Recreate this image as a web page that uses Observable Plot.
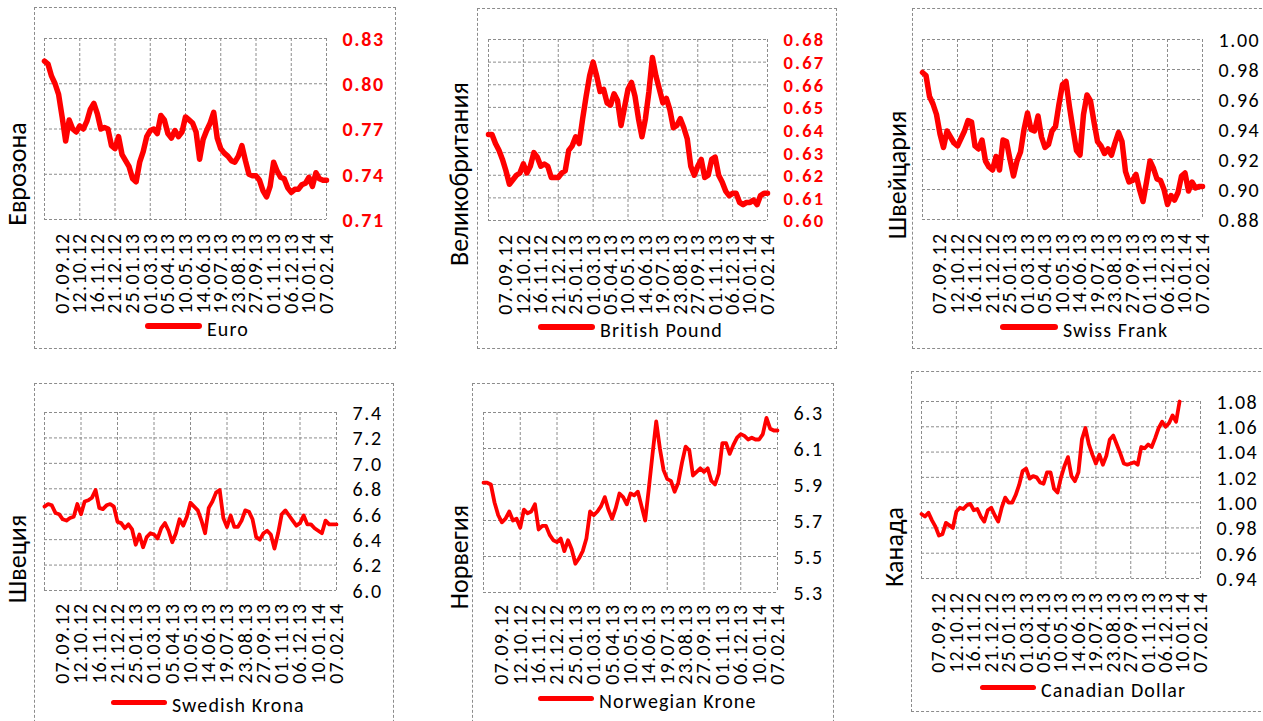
<!DOCTYPE html>
<html>
<head>
<meta charset="utf-8">
<script src="https://cdn.jsdelivr.net/npm/d3@7"></script>
<script src="https://cdn.jsdelivr.net/npm/@observablehq/plot@0.6"></script>
<style>
html,body{margin:0;padding:0;background:#fff;}
body{width:1263px;height:721px;position:relative;overflow:hidden;font-family:Carlito,Calibri,Lato,sans-serif;color:#000;}
.box{position:absolute;border:1px dashed #8c8c8c;box-sizing:border-box;}
.ylab{position:absolute;transform:translate(-50%,-50%) rotate(-90deg);white-space:nowrap;font-size:26px;}
.leg{position:absolute;display:flex;align-items:center;white-space:nowrap;font-size:20px;letter-spacing:1.1px;transform:translateY(-50%);}
.sw{display:inline-block;background:#ff0000;border-radius:4px;margin-right:5px;}
.panel{position:absolute;}
</style>
</head>
<body>
<script>
// ---- data ----
const tickLabels = ["07.09.12","12.10.12","16.11.12","21.12.12","25.01.13","01.03.13","05.04.13","10.05.13",
  "14.06.13","19.07.13","23.08.13","27.09.13","01.11.13","06.12.13","10.01.14","07.02.14"];
const tickWeeks = [5,10,15,20,25,30,35,40,45,50,55,60,65,70,75,80];
const gridWeeks = [0,10,20,30,40,50,60,70,80];

const euro = [0.815,0.813,0.805,0.800,0.793,0.778,0.762,0.776,0.770,0.768,
 0.772,0.770,0.775,0.783,0.787,0.780,0.770,0.771,0.770,0.759,
 0.757,0.765,0.753,0.749,0.745,0.737,0.735,0.748,0.755,0.765,
 0.769,0.770,0.767,0.779,0.776,0.767,0.764,0.769,0.765,0.768,
 0.778,0.776,0.774,0.768,0.750,0.763,0.769,0.774,0.781,0.764,
 0.757,0.754,0.752,0.749,0.748,0.752,0.759,0.749,0.740,0.739,
 0.739,0.736,0.729,0.725,0.732,0.748,0.742,0.738,0.737,0.731,
 0.728,0.730,0.730,0.733,0.734,0.738,0.732,0.741,0.737,0.736,0.736];
const pound = [0.638,0.638,0.634,0.631,0.627,0.622,0.616,0.618,0.620,0.621,
 0.625,0.621,0.624,0.630,0.628,0.624,0.625,0.624,0.619,0.619,
 0.619,0.621,0.622,0.631,0.633,0.637,0.634,0.645,0.655,0.664,
 0.670,0.664,0.657,0.658,0.652,0.651,0.656,0.653,0.642,0.650,
 0.658,0.661,0.655,0.645,0.637,0.645,0.657,0.672,0.664,0.658,
 0.652,0.654,0.649,0.641,0.642,0.645,0.641,0.636,0.624,0.620,
 0.624,0.627,0.619,0.620,0.627,0.628,0.620,0.617,0.613,0.611,
 0.612,0.612,0.608,0.607,0.608,0.608,0.609,0.607,0.611,0.612,0.612];
const franc = [0.978,0.976,0.962,0.957,0.950,0.937,0.928,0.939,0.935,0.931,
 0.929,0.934,0.939,0.946,0.945,0.929,0.927,0.933,0.919,0.915,
 0.913,0.922,0.913,0.933,0.932,0.920,0.909,0.919,0.925,0.940,
 0.951,0.940,0.939,0.949,0.935,0.928,0.930,0.939,0.942,0.957,
 0.970,0.972,0.955,0.940,0.926,0.923,0.950,0.963,0.959,0.945,
 0.932,0.929,0.924,0.927,0.923,0.931,0.938,0.932,0.912,0.905,
 0.906,0.910,0.900,0.892,0.905,0.919,0.914,0.907,0.906,0.900,
 0.890,0.896,0.893,0.898,0.909,0.911,0.899,0.905,0.901,0.902,0.902];
const krona = [6.66,6.68,6.67,6.61,6.60,6.56,6.55,6.57,6.58,6.68,
 6.60,6.70,6.71,6.73,6.79,6.65,6.64,6.67,6.68,6.66,
 6.54,6.53,6.49,6.52,6.48,6.36,6.44,6.34,6.42,6.45,
 6.44,6.41,6.49,6.53,6.47,6.38,6.45,6.56,6.51,6.58,
 6.69,6.66,6.63,6.55,6.45,6.65,6.70,6.77,6.79,6.57,
 6.50,6.59,6.50,6.50,6.55,6.63,6.62,6.56,6.42,6.40,
 6.45,6.47,6.44,6.33,6.45,6.60,6.63,6.59,6.55,6.51,
 6.53,6.59,6.52,6.52,6.49,6.47,6.45,6.55,6.52,6.52,6.52];
const krone = [5.91,5.91,5.90,5.80,5.73,5.69,5.71,5.75,5.70,5.71,
 5.66,5.76,5.74,5.75,5.79,5.65,5.67,5.67,5.62,5.59,
 5.58,5.60,5.53,5.59,5.54,5.46,5.49,5.53,5.60,5.75,
 5.73,5.75,5.78,5.83,5.76,5.71,5.77,5.85,5.83,5.79,
 5.85,5.84,5.86,5.78,5.70,5.88,6.07,6.25,6.10,5.98,
 5.93,5.92,5.86,5.91,6.02,6.11,6.09,5.95,5.97,5.99,
 5.97,5.99,5.92,5.90,5.96,6.13,6.13,6.07,6.12,6.16,
 6.18,6.17,6.15,6.16,6.15,6.15,6.18,6.27,6.21,6.20,6.20];
const cad = [0.991,0.989,0.992,0.986,0.981,0.974,0.975,0.984,0.982,0.980,
 0.993,0.996,0.995,0.998,0.999,0.994,0.995,0.989,0.985,0.994,
 0.996,0.990,0.985,0.996,1.004,1.000,1.000,1.006,1.014,1.025,
 1.027,1.019,1.021,1.020,1.016,1.015,1.024,1.024,1.011,1.008,
 1.020,1.029,1.036,1.021,1.017,1.024,1.050,1.059,1.046,1.038,
 1.031,1.038,1.030,1.037,1.050,1.053,1.046,1.039,1.031,1.030,
 1.031,1.032,1.030,1.044,1.043,1.046,1.044,1.051,1.059,1.064,
 1.060,1.063,1.069,1.064,1.080];

const euroTicks = [0.71,0.74,0.77,0.80,0.83];
const poundTicks = [0.60,0.61,0.62,0.63,0.64,0.65,0.66,0.67,0.68];
const francTicks = [0.88,0.90,0.92,0.94,0.96,0.98,1.00];
const kronaTicks = [6.0,6.2,6.4,6.6,6.8,7.0,7.2,7.4];
const kroneTicks = [5.3,5.5,5.7,5.9,6.1,6.3];
const cadTicks = [0.94,0.96,0.98,1.00,1.02,1.04,1.06,1.08];

const countries = ["Еврозона","Великобритания","Швейцария","Швеция","Норвегия","Канада"];
const currencies = ["Euro","British Pound","Swiss Frank","Swedish Krona","Norwegian Krone","Canadian Dollar"];

// ---- layout ----
const FONT = "Carlito, Calibri, Lato, sans-serif";
const panels = [
  {values:euro, ticks:euroTicks, dec:2, bold:true, color:"#ff0000", fs:20, ls:1.6, box:[34,7,362,342], plot:[44,38,282,181], ylab:[17,174], leg:[145,326], sw:[57,6], lw:5.5, xdy:13},
  {values:pound, ticks:poundTicks, dec:2, bold:true, color:"#ff0000", fs:18.5, ls:2.2, box:[477,8,360,341], plot:[488,39,279,181], ylab:[459,174], leg:[538,327], sw:[57,6], lw:5.5, xdy:13},
  {values:franc, ticks:francTicks, dec:2, bold:false, color:"#000", fs:20, ls:1.6, box:[912,8,360,341], plot:[922,39,280,180], ylab:[897,175], leg:[1000,327], sw:[58,6], lw:5.5, xdy:13},
  {values:krona, ticks:kronaTicks, dec:1, bold:false, color:"#000", fs:20, ls:1.6, box:[34,383,360,360], plot:[44,412,292,178], ylab:[17,559], leg:[111,702], sw:[56,5], lw:3.8, xdy:12},
  {values:krone, ticks:kroneTicks, dec:1, bold:false, color:"#000", fs:20, ls:1.6, box:[472,383,362,360], plot:[483,412,294,180], ylab:[459,557], leg:[538,698], sw:[56,5], lw:3.8, xdy:11},
  {values:cad, ticks:cadTicks, dec:2, bold:false, color:"#000", fs:20, ls:1.6, box:[911,371,360,341], plot:[921,401,279,177], ylab:[894,547], leg:[980,687], sw:[56,5], lw:3.8, xdy:13}
];

const gridStyle = {stroke:"#8c8c8c", strokeOpacity:1, strokeWidth:1, strokeDasharray:"3,2"};

panels.forEach((p, k) => {
  const [bx,by,bw,bh] = p.box;
  const box = document.createElement("div");
  box.className = "box";
  Object.assign(box.style, {left:bx+"px", top:by+"px", width:bw+"px", height:bh+"px"});
  document.body.appendChild(box);

  const [pl,pt,pw,ph] = p.plot;
  const mL = 2, mT = 12, mR = 90, mB = 110;
  const W = pw+mL+mR, H = ph+mT+mB;
  const data = p.values.map((v,i) => ({w:i, v}));
  const xt = tickWeeks.map((w,i) => ({w, label:tickLabels[i]}));
  const chart = Plot.plot({
    width: W, height: H,
    marginLeft:mL, marginRight:mR, marginTop:mT, marginBottom:mB,
    style:{background:"transparent", fontFamily:FONT, overflow:"visible", maxWidth:"none", width:W+"px", height:H+"px"},
    x:{domain:[0,80], axis:null},
    y:{domain:[p.ticks[0], p.ticks[p.ticks.length-1]], axis:null},
    marks:[
      Plot.gridX(gridWeeks, gridStyle),
      Plot.gridY(p.ticks, gridStyle),
      Plot.lineY(data, {x:"w", y:"v", stroke:"#ff0000", strokeWidth:p.lw, strokeLinejoin:"round", strokeLinecap:"round"}),
      Plot.text(p.ticks, {y:d=>d, text:d=>d.toFixed(p.dec), frameAnchor:"right", textAnchor:"start", dx:16, dy:1, fontSize:p.fs, fill:p.color, fontWeight:p.bold?"bold":"normal"}),
      Plot.text(xt, {x:"w", text:"label", frameAnchor:"bottom", rotate:-90, textAnchor:"end", lineAnchor:"middle", dy:p.xdy, fontSize:20, fill:"#000"})
    ]
  });
  chart.querySelectorAll('g[text-anchor="start"]').forEach(g => g.style.letterSpacing = p.ls + "px");
  chart.querySelectorAll('g[text-anchor="end"]').forEach(g => g.style.letterSpacing = "1.3px");
  const wrap = document.createElement("div");
  wrap.className = "panel";
  wrap.style.left = (pl-mL)+"px";
  wrap.style.top = (pt-mT)+"px";
  wrap.style.width = W+"px";
  wrap.style.height = H+"px";
  wrap.appendChild(chart);
  document.body.appendChild(wrap);

  const yl = document.createElement("div");
  yl.className = "ylab";
  yl.textContent = countries[k];
  yl.style.left = p.ylab[0]+"px";
  yl.style.top = p.ylab[1]+"px";
  document.body.appendChild(yl);

  const leg = document.createElement("div");
  leg.className = "leg";
  leg.style.left = p.leg[0]+"px";
  leg.style.top = p.leg[1]+"px";
  const sw = document.createElement("span");
  sw.className = "sw";
  sw.style.width = p.sw[0]+"px";
  sw.style.height = p.sw[1]+"px";
  const tx = document.createElement("span");
  tx.textContent = currencies[k];
  tx.style.position = "relative";
  tx.style.top = "3px";
  leg.appendChild(sw);
  leg.appendChild(tx);
  document.body.appendChild(leg);
});
</script>
</body>
</html>
